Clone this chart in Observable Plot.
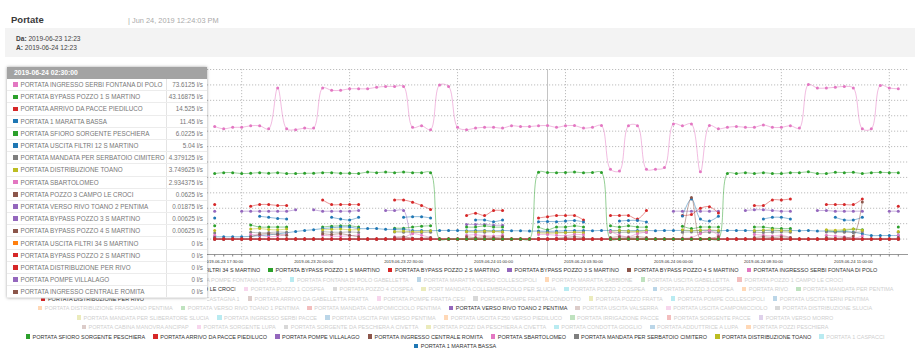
<!DOCTYPE html>
<html><head><meta charset="utf-8">
<script src="https://cdn.jsdelivr.net/npm/d3@7"></script>
<script src="https://cdn.jsdelivr.net/npm/@observablehq/plot@0.6"></script>
<style>
body{margin:0;width:920px;height:356px;position:relative;overflow:hidden;background:#fff;font-family:"Liberation Sans",Arial,sans-serif;}
#title{position:absolute;left:11px;top:14px;font-size:9.5px;line-height:11px;font-weight:bold;color:#3a3a3a;}
#stamp{position:absolute;left:128px;top:16px;font-size:7.4px;line-height:9px;color:#aaa;}
#range{position:absolute;left:5px;top:28px;width:910px;height:29px;background:#f3f3f3;}
#range div{position:absolute;left:11px;font-size:6.6px;line-height:7px;color:#444;}
#chart{position:absolute;left:0;top:60px;}
#legend{position:absolute;left:0;top:265.3px;width:910px;}
.lrow{display:flex;justify-content:center;height:9.5px;align-items:center;white-space:nowrap;}
.litem{display:flex;align-items:center;margin:0 4px;font-size:5.5px;line-height:6px;}
.lsw{width:4.5px;height:4.5px;margin-right:2.5px;}
#tip{position:absolute;left:7px;top:66.5px;width:200px;background:#fff;box-shadow:0 0 3px rgba(0,0,0,.35);}
#tip .hd{height:12.5px;line-height:12.5px;background:#a3a3a3;color:#fff;font-weight:bold;font-size:6.8px;padding-left:7px;}
#tip .tr{display:flex;height:12.2px;align-items:center;border-bottom:1px solid #ececec;box-sizing:border-box;font-size:6.3px;color:#777;}
#tip .nm{width:160px;display:flex;align-items:center;padding-left:6px;box-sizing:border-box;border-right:1px solid #e4e4e4;height:100%;white-space:nowrap;overflow:hidden;}
#tip .sw{width:4.5px;height:4.5px;margin-right:3px;flex:none;}
#tip .vl{flex:1;text-align:right;padding-right:4px;white-space:nowrap;}
</style></head><body>
<div id="title">Portate</div>
<div id="stamp">| Jun 24, 2019 12:24:03 PM</div>
<div id="range"><div style="top:6.5px"><b>Da:</b> 2019-06-23 12:23</div><div style="top:15.5px"><b>A:</b> 2019-06-24 12:23</div></div>
<div id="chart"></div>
<div id="legend"></div>
<div id="tip"></div>
<script>
const n = null;
const cat10 = ["#1f77b4","#ff7f0e","#2ca02c","#d62728","#9467bd","#8c564b","#e377c2","#7f7f7f","#bcbd22","#17becf"];

// sampling grid: every 15 minutes from 2019-06-23 17:15
const firstSample = "2019-06-23 17:15";
const stepMinutes = 15;
const xDomain = ["2019-06-23 17:03", "2019-06-24 12:32"];
const hoverTime = "2019-06-24 02:30";
const labelTimes = ["2019-06-23 17:30","2019-06-23 20:00","2019-06-23 22:30","2019-06-24 01:00","2019-06-24 03:30","2019-06-24 06:00","2019-06-24 08:30","2019-06-24 11:00"];
const vGridTimes = ["2019-06-23 18:00","2019-06-23 21:00","2019-06-24 00:00","2019-06-24 03:00","2019-06-24 06:00","2019-06-24 09:00","2019-06-24 12:00"];
const yGridTicks = [-10,0,10,20,30,40,50,60,70,80,90,100,110];

const ingressoSerbi = [73,71.5,72.5,72.5,73.5,73.5,71.5,98,71.5,71,
 72,72,98,96.5,96.5,97.5,97.5,97.5,98.5,99,
 99,99,72.5,73.5,71,100,99,72.5,71,72,
 72.5,72.5,72,73.5,73,73,73.5,73.6125,72.5,73.5,
 73.6,72,72.5,73.6,45.3,44.2,73.5,73.5,45.3,45.3,
 46.4,74.7,73.5,74.7,43.6,73.6,71.5,72.5,73,72.5,
 72.5,74,72.5,72.5,73.5,72,100.2,98,98,98.5,
 99,98,71.5,71.5,99.7,98,97.5];
const bypass1 = [42.5,43.1,43.1,42.5,42.7,43.1,42.7,43.1,42.5,42.5,
 42.7,42.7,43.1,43.1,42.7,42.7,42.5,43.5,43.1,43.5,
 43.1,43.5,43.1,43.1,43.1,0,0,0,0,0,
 0,0,0,0,0,0,43.4,43.16875,43.1,43.2,
 43.5,43.0,43.2,43.2,0,0,0,0,0,0,
 0,0,0,0,0,0,0,42.5,42.5,43.1,
 42.5,43.1,42.5,42.5,43.1,43.1,43.6,42.5,42.5,43.3,
 43.1,43.3,42.5,43.1,43.3,43.1,43.1];
const arrivoPacce = [22.4,n,n,n,21.3,22.4,22.4,21.8,21.8,n,
 n,n,25.4,22.4,22.4,22.4,22.4,n,n,n,
 25.4,25.4,23.9,21.8,19.2,n,n,n,15.3,16.8,
 15.3,18.5,18.5,n,n,n,13.7,14.525,15.3,15.3,
 15.3,12.4,n,n,15.3,15.3,15.3,13.0,18.5,n,
 n,n,15.3,16.0,20.0,21.0,17.0,n,n,n,
 21.8,21.8,25.4,25.4,26.0,n,n,n,22.4,22.4,
 22.4,22.4,26.0,n,n,n,21.3];
const marattaBassa = [13.7,n,n,n,n,14.8,14.1,13.4,13.0,n,
 n,n,n,14.1,13.0,12.4,14.1,n,n,n,
 n,14.1,14.5,14.5,13.7,n,n,n,n,12.4,
 12.4,11.3,12.4,n,n,n,11.3,11.45,11.3,11.7,
 12.1,11.1,n,n,n,11.7,12.1,12.1,11.1,n,
 n,n,15.0,26.0,13.0,11.7,14.8,n,n,n,
 n,13.0,14.1,14.1,13.0,n,n,n,n,14.1,
 12.4,12.4,14.1,n,n,n,n];
const sfioroPeschiera = [8.6,n,n,n,9.2,7.8,7.8,7.8,7.8,n,
 n,n,7.8,8.4,8.6,8.6,7.8,n,n,n,
 7.1,7.1,7.8,8.4,8.6,n,n,n,7.8,7.8,
 8.6,7.8,7.8,n,n,n,7.8,6.0225,7.8,7.8,
 8.6,7.8,n,n,8.6,7.8,8.6,7.8,7.8,n,
 n,n,8.4,6.8,7.8,7.8,7.8,n,n,n,
 7.8,7.8,7.1,6.8,6.8,n,n,n,5.5,5.0,
 5.5,6.5,6.0,n,n,n,7.8];
const filtri12 = [1.5,1.5,1.5,1.5,1.8,2.2,2.7,3.4,4.1,4.9,
 5.6,6.1,6.8,7.3,7.8,7.8,6.8,6.8,6.8,6.3,
 6.3,6.3,5.6,5.6,5.4,5.6,5.6,5.6,5.4,5.6,
 5.6,5.4,5.6,5.4,5.4,5.2,5.2,5.04,5.2,5.4,
 5.6,5.6,5.4,5.6,5.6,5.6,5.4,5.6,5.6,5.4,
 5.6,5.6,5.6,5.4,5.6,5.6,5.4,5.6,5.6,5.6,
 5.4,5.6,5.4,5.6,5.6,5.4,5.6,5.2,5.2,5.0,
 5.0,4.5,3.4,2.3,2.3,2.3,2.3];
const cimitero = [4.0,n,n,n,4.5,4.0,4.2,4.6,4.4,n,
 n,n,4.8,4.5,4.4,4.6,4.3,n,n,n,
 4.6,4.5,4.4,4.2,4.5,n,n,n,4.6,4.4,
 4.5,4.8,4.5,n,n,n,4.5,4.379125,4.4,4.2,
 4.5,4.6,n,n,4.5,4.3,4.4,4.6,4.5,n,
 n,n,4.4,4.6,4.3,4.5,4.4,n,n,n,
 4.5,4.2,4.4,4.6,4.5,n,n,n,4.6,4.4,
 4.5,4.3,4.8,n,n,n,4.5];
const toano = [5.5,n,n,n,6.5,6.8,6.2,6.0,6.5,n,
 n,n,6.0,6.3,6.5,6.0,6.2,n,n,n,
 5.0,5.2,4.8,5.0,5.4,n,n,n,5.0,4.8,
 5.2,5.0,4.8,n,n,n,4.0,3.749625,3.9,4.2,
 4.5,4.0,n,n,5.0,5.5,5.2,5.0,5.5,n,
 n,n,6.0,5.5,5.8,6.0,5.5,n,n,n,
 5.5,5.8,6.0,5.5,5.2,n,n,n,6.0,5.8,
 6.2,6.5,5.8,n,n,n,5.0];
const sbartolomeo = [2.5,n,n,n,3.0,2.5,1.5,2.0,2.8,n,
 n,n,2.5,2.0,1.8,2.2,2.6,n,n,n,
 1.5,1.0,3.5,2.5,1.0,n,n,n,2.5,2.8,
 2.2,2.0,2.5,n,n,n,3.0,2.934375,2.5,2.2,
 3.0,2.8,n,n,5.0,2.5,1.5,3.5,4.5,n,
 n,n,0.5,1.0,3.5,5.5,2.5,n,n,n,
 3.0,2.5,2.0,2.5,1.0,n,n,n,2.5,2.0,
 1.5,0.5,2.0,n,n,n,2.5];
const pozzo3LeCroci = [1.0,n,n,n,1.5,3.0,3.5,3.0,2.5,n,
 n,n,3.5,3.0,3.5,2.5,1.5,n,n,n,
 1.0,1.5,0.5,0.5,1.0,n,n,n,1.5,1.0,
 1.5,1.0,1.5,n,n,n,0.5,0.0625,0.5,1.0,
 1.5,1.0,n,n,1.0,1.5,1.0,1.5,1.0,n,
 n,n,0.0,27.0,0.0,0.5,1.5,n,n,n,
 1.0,1.5,1.0,1.5,1.0,n,n,n,1.0,0.5,
 1.0,2.0,24.0,n,n,n,1.0];
const toano2 = [18.1,n,n,18.1,18.1,18.1,18.1,18.1,18.1,19.0,
 n,19.0,18.1,18.1,18.1,18.1,18.5,n,n,18.5,
 18.5,18.5,0.5,0.3,0.3,n,n,n,9.5,9.5,
 9.5,9.0,9.0,n,n,n,0.02,0.01875,0.02,0.02,
 0.02,0.02,n,n,n,n,n,n,n,n,
 n,18.1,18.1,18.1,18.1,18.1,18.1,n,n,18.5,
 19.0,19.0,18.5,18.1,18.1,n,n,18.5,18.5,18.1,
 18.1,18.1,18.1,n,n,18.1,18.1];
const zeroFlow = [0,0,0,0,0,0,0,0,0,0, 0,0,0,0,0,0,0,0,0,0, 0,0,0,0,0,0,0,0,0,0,
 0,0,0,0,0,0,0,0,0,0, 0,0,0,0,0,0,0,0,0,0, 0,0,0,0,0,0,0,0,0,0,
 0,0,0,0,0,0,0,0,0,0, 0,0,0,0,0,0,0];

const series = [
 {name:"PORTATA VERSO RIVO TOANO 2 PENTIMA", c:4, values:toano2},
 {name:"PORTATA ARRIVO DA PACCE PIEDILUCO", c:3, values:arrivoPacce},
 {name:"PORTATA 1 MARATTA BASSA", c:0, values:marattaBassa},
 {name:"PORTATA SFIORO SORGENTE PESCHIERA", c:2, values:sfioroPeschiera},
 {name:"PORTATA USCITA FILTRI 12 S MARTINO", c:0, values:filtri12},
 {name:"PORTATA MANDATA PER SERBATOIO CIMITERO", c:7, values:cimitero},
 {name:"PORTATA DISTRIBUZIONE TOANO", c:8, values:toano},
 {name:"PORTATA SBARTOLOMEO", c:6, values:sbartolomeo},
 {name:"PORTATA POZZO 3 CAMPO LE CROCI", c:5, values:pozzo3LeCroci},
 {name:"PORTATA USCITA FILTRI 34 S MARTINO", c:1, values:zeroFlow},
 {name:"PORTATA POMPE VILLALAGO", c:4, values:zeroFlow},
 {name:"PORTATA BYPASS POZZO 3 S MARTINO", c:4, values:zeroFlow},
 {name:"PORTATA INGRESSO CENTRALE ROMITA", c:5, values:zeroFlow},
 {name:"PORTATA BYPASS POZZO 4 S MARTINO", c:5, values:zeroFlow},
 {name:"PORTATA DISTRIBUZIONE PER RIVO", c:3, values:zeroFlow},
 {name:"PORTATA BYPASS POZZO 2 S MARTINO", c:3, values:zeroFlow},
 {name:"PORTATA BYPASS POZZO 1 S MARTINO", c:2, values:bypass1},
 {name:"PORTATA INGRESSO SERBI FONTANA DI POLO", c:6, values:ingressoSerbi}
];

const tipTitle = "2019-06-24 02:30:00";
const tipNames = ["PORTATA INGRESSO SERBI FONTANA DI POLO","PORTATA BYPASS POZZO 1 S MARTINO","PORTATA ARRIVO DA PACCE PIEDILUCO","PORTATA 1 MARATTA BASSA","PORTATA SFIORO SORGENTE PESCHIERA","PORTATA USCITA FILTRI 12 S MARTINO","PORTATA MANDATA PER SERBATOIO CIMITERO","PORTATA DISTRIBUZIONE TOANO","PORTATA SBARTOLOMEO","PORTATA POZZO 3 CAMPO LE CROCI","PORTATA VERSO RIVO TOANO 2 PENTIMA","PORTATA BYPASS POZZO 3 S MARTINO","PORTATA BYPASS POZZO 4 S MARTINO","PORTATA USCITA FILTRI 34 S MARTINO","PORTATA BYPASS POZZO 2 S MARTINO","PORTATA DISTRIBUZIONE PER RIVO","PORTATA POMPE VILLALAGO","PORTATA INGRESSO CENTRALE ROMITA"];
const tipColors = [6,2,3,0,2,0,7,8,6,5,4,4,5,1,3,3,4,5];
const tipValues = ["73.6125","43.16875","14.525","11.45","6.0225","5.04","4.379125","3.749625","2.934375","0.0625","0.01875","0.00625","0.00625","0","0","0","0","0"];

// [name, colour index, active, hidden behind the tooltip]
const legendRows = [
 [["PORTATA USCITA FILTRI 12 S MARTINO",0,1,1],["PORTATA USCITA FILTRI 34 S MARTINO",1,1],["PORTATA BYPASS POZZO 1 S MARTINO",2,1],["PORTATA BYPASS POZZO 2 S MARTINO",3,1],["PORTATA BYPASS POZZO 3 S MARTINO",4,1],["PORTATA BYPASS POZZO 4 S MARTINO",5,1],["PORTATA INGRESSO SERBI FONTANA DI POLO",6,1]],
 [["PORTATA USCITA FONTANA DI POLO",7,0,1],["PORTATA POMPE FONTANA DI POLO",8,0],["PORTATA FONTANA DI POLO GABELLETTA",9,0],["PORTATA MARATTA VERSO COLLESCIPOLI",0,0],["PORTATA MARATTA SABBIONE",1,0],["PORTATA USCITA GABELLETTA",2,0],["PORTATA POZZO 1 CAMPO LE CROCI",3,0]],
 [["PORTATA POZZO 2 CAMPO LE CROCI",4,0,1],["PORTATA POZZO 3 CAMPO LE CROCI",5,1],["PORTATA POZZO 1 COSPEA",6,0],["PORTATA POZZO 4 COSPEA",7,0],["PORT MANDATA COLLEMBRACOLO PER SLUCIA",8,0],["PORTATA POZZO 2 COSPEA",9,0],["PORTATA POZZO 3 COSPEA",0,0],["PORTATA RIVO",1,0],["PORTATA MANDATA PER PENTIMA",2,0]],
 [["PORTATA DISTRIBUZIONE PER RIVO",3,1],["PORTATA POZZO CASTAGNA 1",4,0],["PORTATA ARRIVO DA GABELLETTA FRATTA",5,0],["PORTATA POMPE FRATTA CESI",6,0],["PORTATA POMPE FRATTA CONDOTTO",7,0],["PORTATA POZZO FRATTA",8,0],["PORTATA POMPE COLLESCIPOLI",9,0],["PORTATA USCITA TERNI PENTIMA",0,0]],
 [["PORTATA DISTRIBUZIONE FRASCIANO PENTIMA",1,0],["PORTATA VERSO RIVO TOANO 1 PENTIMA",2,0],["PORTATA MANDATA CAMPOMICCIOLO PENTIMA",3,0],["PORTATA VERSO RIVO TOANO 2 PENTIMA",4,1],["PORTATA USCITA VALSERRA",5,0],["PORTATA USCITA CAMPOMICCIOLO",6,0],["PORTATA DISTRIBUZIONE SLUCIA",7,0]],
 [["PORTATA MANDATA PER SLIBERATORE SLUCIA",8,0],["PORTATA INGRESSO SERBI PACCE",9,0],["PORTATA USCITA FWI VERSO PENTIMA",0,0],["PORTATA USCITA F250 VERSO PIEDILUCO",1,0],["PORTATA IRRIGAZIONE PACCE",2,0],["PORTATA SORGENTE PACCE",3,0],["PORTATA VERSO MORRO",4,0]],
 [["PORTATA CABINA MANOVRA ANCIPAP",5,0],["PORTATA SORGENTE LUPA",6,0],["PORTATA SORGENTE DA PESCHIERA A CIVETTA",7,0],["PORTATA POZZI DA PESCHIERA A CIVETTA",8,0],["PORTATA CONDOTTA GIOGLIO",9,0],["PORTATA ADDUTTRICE A LUPA",0,0],["PORTATA POZZI PESCHIERA",1,0]],
 [["PORTATA SFIORO SORGENTE PESCHIERA",2,1],["PORTATA ARRIVO DA PACCE PIEDILUCO",3,1],["PORTATA POMPE VILLALAGO",4,1],["PORTATA INGRESSO CENTRALE ROMITA",5,1],["PORTATA SBARTOLOMEO",6,1],["PORTATA MANDATA PER SERBATOIO CIMITERO",7,1],["PORTATA DISTRIBUZIONE TOANO",8,1],["PORTATA 1 CASPACCI",9,0]],
 [["PORTATA 1 MARATTA BASSA",0,1]]
];

const parse = d3.timeParse("%Y-%m-%d %H:%M");
const t0 = parse(firstSample);
const times = ingressoSerbi.map((_, i) => new Date(+t0 + i * stepMinutes * 60000));
const rows = [];
series.forEach(s => s.values.forEach((v, i) => rows.push({name: s.name, col: cat10[s.c], t: times[i], v})));

const fmt = d3.timeFormat("%Y-%m-%d %H:%M:%S");
const chart = Plot.plot({
  width: 920, height: 212,
  marginLeft: 207, marginRight: 12, marginTop: 9, marginBottom: 18,
  x: {type: "time", domain: xDomain.map(parse), axis: null, label: null},
  y: {domain: [-10, 110], axis: null, label: null},
  color: {type: "identity"},
  style: {fontFamily: "Liberation Sans, Arial, sans-serif", background: "transparent", overflow: "visible"},
  marks: [
    Plot.gridY(yGridTicks, {stroke: "#bdbdbd", strokeOpacity: 1, strokeDasharray: "1.2,1.8"}),
    Plot.gridX(vGridTimes.map(parse), {stroke: "#bdbdbd", strokeOpacity: 1, strokeDasharray: "1.2,1.8"}),
    Plot.ruleX([parse(hoverTime)], {stroke: "#c4c4c4", strokeWidth: 1}),
    Plot.ruleY([-10], {stroke: "#999"}),
    Plot.axisX({ticks: times, tickSize: 2.5, tickFormat: () => "", stroke: "#888", label: null}),
    Plot.axisX({ticks: labelTimes.map(parse), tickSize: 0, tickPadding: 5.5, tickFormat: fmt, fontSize: 4.2, fill: "#333", label: null}),
    Plot.line(rows, {x: "t", y: "v", z: "name", stroke: "col", strokeWidth: 1, strokeOpacity: 0.5, curve: "catmull-rom"}),
    Plot.dot(rows, {x: "t", y: "v", fill: "col", r: 1.5})
  ]
});
document.getElementById("chart").append(chart);

const leg = d3.select("#legend");
legendRows.forEach(r => {
  const row = leg.append("div").attr("class", "lrow");
  r.forEach(([name, c, act, hid]) => {
    const it = row.append("div").attr("class", "litem").style("color", act ? "#333" : "#cfcfcf")
      .style("visibility", hid ? "hidden" : null);
    it.append("div").attr("class", "lsw").style("background", cat10[c]).style("opacity", act ? 1 : 0.3);
    it.append("span").text(name);
  });
});

const tip = d3.select("#tip");
tip.append("div").attr("class", "hd").text(tipTitle);
tipNames.forEach((name, i) => {
  const tr = tip.append("div").attr("class", "tr");
  const nm = tr.append("div").attr("class", "nm");
  nm.append("div").attr("class", "sw").style("background", cat10[tipColors[i]]);
  nm.append("span").text(name);
  tr.append("div").attr("class", "vl").text(tipValues[i] + " l/s");
});

// legend entries partly under the tooltip are clipped where the tooltip covers them
const tb = document.getElementById("tip").getBoundingClientRect();
document.querySelectorAll(".litem").forEach(el => {
  const r = el.getBoundingClientRect();
  if (r.left < tb.right && r.right > tb.left && r.top < tb.bottom && r.bottom > tb.top) {
    if (r.bottom > tb.bottom && r.top < tb.bottom && r.right <= tb.right + 1) {
      el.style.clipPath = `inset(${tb.bottom - r.top}px 0 0 0)`;
    } else if (r.right > tb.right) {
      el.style.clipPath = `inset(0 0 0 ${tb.right - r.left}px)`;
    }
  }
});
</script>
</body></html>
